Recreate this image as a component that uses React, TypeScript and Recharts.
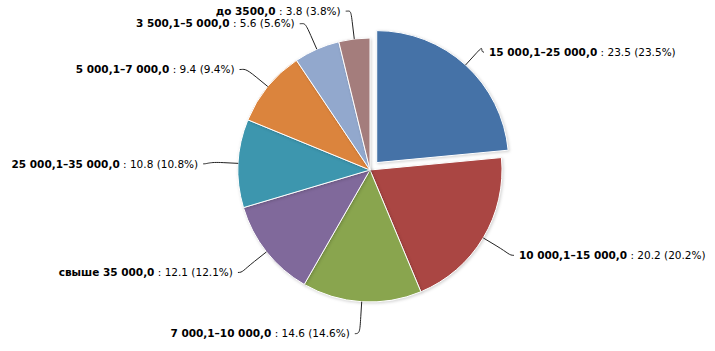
import React from "react";
import { PieChart, Pie, Cell, Sector } from "recharts";

const categories = [
  "15 000,1–25 000,0",
  "10 000,1–15 000,0",
  "7 000,1–10 000,0",
  "свыше 35 000,0",
  "25 000,1–35 000,0",
  "5 000,1–7 000,0",
  "3 500,1–5 000,0",
  "до 3500,0",
];
const values = [23.5, 20.2, 14.6, 12.1, 10.8, 9.4, 5.6, 3.8];
const colors = ["#4572A7", "#AA4643", "#89A54E", "#80699B", "#3D96AE", "#DB843D", "#92A8CD", "#A47D7C"];
const slicedName = "15 000,1–25 000,0";

const data = categories.map((name, i) => ({ name, value: values[i] }));

const RAD = Math.PI / 180;
const SLICE_OFFSET = 10;
const LABEL_DISTANCE = 30;
const CONNECTOR_OFFSET = 15;
const FONT = "'DejaVu Sans', Verdana, sans-serif";

function offsetFor(name: string, midAngle: number) {
  const off = name === slicedName ? SLICE_OFFSET : 0;
  return { dx: off * Math.cos(-midAngle * RAD), dy: off * Math.sin(-midAngle * RAD) };
}

function renderShape(props: any) {
  const name = props.name ?? props.payload?.name;
  const { dx, dy } = offsetFor(name, props.midAngle);
  return (
    <Sector
      {...props}
      cx={props.cx + dx}
      cy={props.cy + dy}
      stroke="#ffffff"
      strokeWidth={1}
      style={{ filter: "drop-shadow(1px 1px 1.5px rgba(0,0,0,0.18))" }}
    />
  );
}

function renderLabel(props: any) {
  const { cx, cy, midAngle, outerRadius, name, value, percent } = props;
  const cos = Math.cos(-midAngle * RAD);
  const sin = Math.sin(-midAngle * RAD);
  const { dx, dy } = offsetFor(name, midAngle);
  const left = cos < 0;
  const x = cx + (outerRadius + LABEL_DISTANCE) * cos;
  const y = cy + (outerRadius + LABEL_DISTANCE) * sin + 2;
  const bx = cx + dx + outerRadius * cos;
  const by = cy + dy + outerRadius * sin;
  const kx = cx + dx + (outerRadius + CONNECTOR_OFFSET) * cos;
  const ky = cy + dy + (outerRadius + CONNECTOR_OFFSET) * sin;
  const sx = x + (left ? -5 : 5);
  const path = `M ${sx} ${y} C ${x} ${y} ${2 * kx - bx} ${2 * ky - by} ${kx} ${ky} L ${bx} ${by}`;
  const tx = x + (left ? -10 : 10);
  return (
    <g>
      <path d={path} fill="none" stroke="#222222" strokeWidth={1} />
      <text
        x={tx}
        y={y}
        dy="0.35em"
        textAnchor={left ? "end" : "start"}
        fontFamily={FONT}
        fontSize={10.5}
        fill="#000000"
      >
        <tspan fontWeight="bold">{name}</tspan>
        <tspan>{` : ${value} (${(percent * 100).toFixed(1)}%)`}</tspan>
      </text>
    </g>
  );
}

export default function App() {
  return (
    <div style={{ position: "absolute", left: 0, top: 0 }}>
      <PieChart width={715} height={351} margin={{ top: 0, right: 0, bottom: 0, left: 0 }}>
        <Pie
          data={data}
          dataKey="value"
          nameKey="name"
          cx={370}
          cy={170}
          outerRadius={132}
          startAngle={90}
          endAngle={-270}
          shape={renderShape}
          label={renderLabel}
          labelLine={false}
          isAnimationActive={false}
        >
          {data.map((d, i) => (
            <Cell key={d.name} fill={colors[i]} />
          ))}
        </Pie>
      </PieChart>
    </div>
  );
}
